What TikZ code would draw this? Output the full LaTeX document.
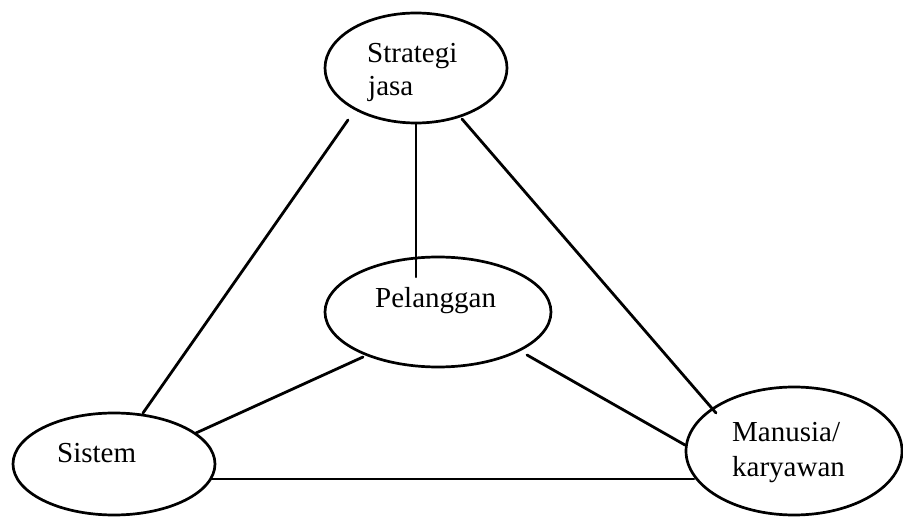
\documentclass[tikz,border=0pt]{standalone}
\usepackage{fontspec}
\setmainfont{Liberation Serif}
\usetikzlibrary{shapes.geometric,calc}
\tikzset{
  blob/.style={ellipse, draw=black, line width=2.7pt, inner sep=0pt, outer sep=0pt},
  lbl/.style={anchor=base west, inner sep=0pt, text=black, font=\fontsize{29}{35}\selectfont},
  link/.style={draw=black, line width=2.8pt, line cap=round},
}
\begin{document}
\begin{tikzpicture}[x=1pt,y=-1pt]
\useasboundingbox (0,0) rectangle (903,518);
\fill[white] (0,0) rectangle (903,518);
% ellipses
\node[blob, minimum width=182pt, minimum height=110pt] (st) at (416,68) {};
\node[blob, minimum width=226pt, minimum height=110pt] (pe) at (438,312) {};
\node[blob, minimum width=202pt, minimum height=102pt] (si) at (114,464) {};
\node[blob, minimum width=216pt, minimum height=128pt] (ma) at (794,451) {};
% labels
\node[lbl] (st1) at (367,63) {Strategi};
\node[lbl] (st2) at (368,96) {jasa};
\node[lbl] (pe1) at (375,308) {Pelanggan};
\node[lbl] (si1) at (57,463) {Sistem};
\node[lbl] (ma1) at (732,442) {Manusia/};
\node[lbl] (ma2) at (732,477) {karyawan};
% connectors
\draw[link] ($(st.center)+(-68,52)$) -- ($(si.center)+(29,-51)$);
\draw[link] ($(st.center)+(46,51)$) -- ($(ma.center)+(-78,-38)$);
\draw[link, line width=2.3pt] (st.south) -- ($(st.south |- pe.center)+(0,-35)$);
\draw[link] ($(pe.center)+(-75,45)$) -- ($(si.center)+(82,-31)$);
\draw[link] ($(pe.center)+(89,43)$) -- ($(ma.center)+(-109,-6)$);
\draw[link] ($(si.center)+(97,15)$) -- ($(ma.center)+(-100,28)$);
\end{tikzpicture}
\end{document}
